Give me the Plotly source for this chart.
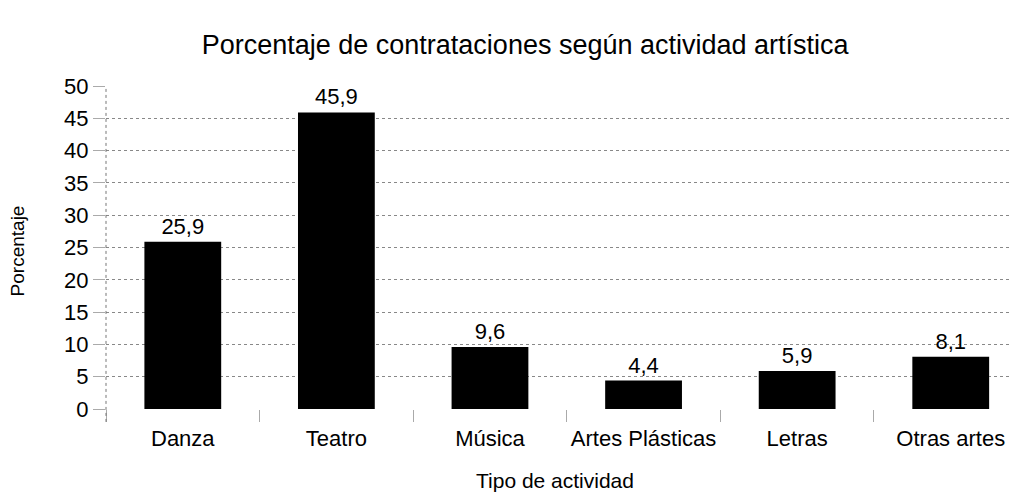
import plotly.graph_objects as go

categorias = ["Danza", "Teatro", "Música", "Artes Plásticas", "Letras", "Otras artes"]
porcentajes = [25.9, 45.9, 9.6, 4.4, 5.9, 8.1]
ticks_y = [0, 5, 10, 15, 20, 25, 30, 35, 40, 45, 50]

fig = go.Figure()

fig.add_trace(go.Bar(
    x=categorias,
    y=porcentajes,
    width=0.5,
    marker=dict(color="#000000", line=dict(width=0)),
    texttemplate="%{y:.1f}",
    textposition="outside",
    textfont=dict(size=22, color="#000000"),
    cliponaxis=False,
))

# eje vertical punteado
fig.add_shape(type="line", xref="paper", yref="paper", x0=0, x1=0, y0=-0.04, y1=1,
              line=dict(color="#777777", width=1, dash="dot"))

fig.update_layout(
    width=1018,
    height=493,
    margin=dict(l=98, r=0, t=78, b=92),
    paper_bgcolor="white",
    plot_bgcolor="white",
    separators=",.",
    font=dict(family="Liberation Sans, Arial, sans-serif", color="#000000"),
    title=dict(text="Porcentaje de contrataciones según actividad artística",
               x=0.508, xanchor="center", y=0.925, yanchor="middle",
               font=dict(size=27)),
    showlegend=False,
    xaxis=dict(
        range=[-0.5, 5.49],
        tickfont=dict(size=22),
        tickangle=0,
        ticks="outside",
        tickson="boundaries",
        ticklen=12,
        tickcolor="#aaaaaa",
        ticklabelstandoff=14,
        showline=False,
        showgrid=False,
        automargin=False,
    ),
    yaxis=dict(
        range=[0, 50],
        tickvals=ticks_y,
        tickfont=dict(size=22),
        ticks="outside",
        ticklen=12,
        tickcolor="#aaaaaa",
        showgrid=True,
        gridcolor="#888888",
        griddash="dot",
        gridwidth=1,
        zeroline=False,
        showline=False,
        automargin=False,
    ),
    annotations=[
        dict(text="Porcentaje", xref="paper", yref="paper", x=-0.096, y=0.49,
             xanchor="center", yanchor="middle", textangle=-90, showarrow=False,
             font=dict(size=19)),
        dict(text="Tipo de actividad", xref="paper", yref="paper", x=0.488, y=-0.22,
             xanchor="center", yanchor="middle", showarrow=False,
             font=dict(size=21)),
    ],
    bargap=0.5,
)

fig.write_html("out.html")
